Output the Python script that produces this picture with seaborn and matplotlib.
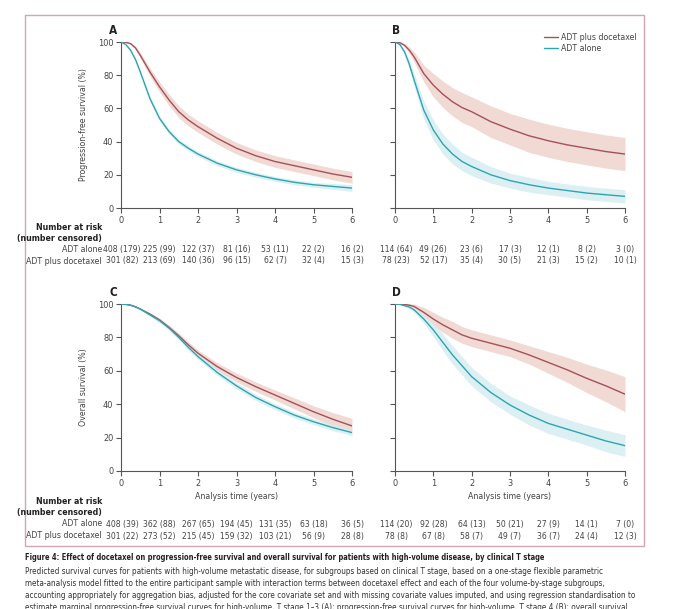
import pandas as pd
import matplotlib
matplotlib.use("Agg")
import matplotlib.pyplot as plt
import matplotlib.transforms as mtransforms
from matplotlib import font_manager
from matplotlib.patches import Rectangle
import seaborn as sns

years = [0, 0.125, 0.25, 0.375, 0.5, 0.75, 1, 1.25, 1.5, 1.75, 2, 2.5, 3, 3.5, 4, 4.5, 5, 5.5, 6]

# A: progression-free survival, high volume, T stage 1-3
a_doc = [100, 99.8, 99, 96.5, 92, 82, 73, 65, 58, 53, 49, 42, 36, 31.5, 28, 25.5, 23, 20.5, 18.5]
a_doc_lo = [100, 99.6, 98.5, 95.5, 90.5, 79.5, 70, 61.5, 54.5, 49.5, 45.5, 38.5, 32.5, 28, 24.5, 22, 19.5, 17, 15]
a_doc_hi = [100, 100, 99.5, 97.5, 93.5, 84.5, 76, 68.5, 61.5, 56.5, 52.5, 45.5, 39.5, 35, 31.5, 29, 26.5, 24, 22]
a_adt = [100, 98.5, 95, 89.5, 82, 66, 54, 46, 40, 36, 32.5, 27, 23, 20, 17.5, 15.5, 14, 13, 12]
a_adt_lo = [100, 98.2, 94.5, 88.7, 81, 64.5, 52.5, 44.5, 38.5, 34.5, 31, 25.5, 21.5, 18.5, 16, 14, 12.5, 11.2, 10]
a_adt_hi = [100, 98.8, 95.5, 90.3, 83, 67.5, 55.5, 47.5, 41.5, 37.5, 34, 28.5, 24.5, 21.5, 19, 17, 15.5, 14.8, 14]

# B: progression-free survival, high volume, T stage 4
b_doc = [100, 99.6, 98, 95, 91, 81, 74, 68.5, 64, 60.5, 58, 52, 47.5, 43.5, 40.5, 38, 36, 34, 32.5]
b_doc_lo = [100, 99.2, 97, 93, 88, 76, 67, 60.5, 55.5, 51.5, 49, 42.5, 38, 33.5, 30.5, 28, 26, 24, 22.5]
b_doc_hi = [100, 100, 99, 97, 94, 86, 81, 76.5, 72.5, 69.5, 67, 61.5, 57, 53.5, 50.5, 48, 46, 44, 42.5]
b_adt = [100, 98.5, 94, 86.5, 77, 59, 47, 38.5, 32.5, 28, 25, 20, 16.5, 14, 12, 10.5, 9, 8, 7]
b_adt_lo = [100, 98, 92.5, 83.7, 73, 53.5, 41, 32.5, 26.5, 22.5, 19.5, 15, 12, 9.5, 8, 6.5, 5, 4, 3]
b_adt_hi = [100, 99, 95.5, 89.3, 81, 64.5, 53, 44.5, 38.5, 33.5, 30.5, 25, 21, 18.5, 16, 14.5, 13, 12, 11]

# C: overall survival, high volume, T stage 1-3
c_doc = [100, 99.8, 99.3, 98.3, 97, 94, 90.5, 86, 81, 75.5, 70.5, 62.5, 56, 50.5, 45.5, 40.5, 35.5, 31, 27]
c_doc_lo = [100, 99.7, 99.1, 98, 96.5, 93.2, 89.5, 84.7, 79.4, 73.7, 68.5, 60.2, 53.4, 47.7, 42.5, 37.2, 31.9, 27, 22.5]
c_doc_hi = [100, 99.9, 99.5, 98.6, 97.5, 94.8, 91.5, 87.3, 82.6, 77.3, 72.5, 64.8, 58.6, 53.3, 48.5, 43.8, 39.1, 35, 31.5]
c_adt = [100, 99.8, 99.3, 98.3, 97, 93.5, 90, 85.5, 80, 74, 68.5, 59, 51, 44, 38.5, 33.5, 29.5, 26, 23]
c_adt_lo = [100, 99.7, 99.1, 98, 96.5, 92.7, 89, 84.3, 78.6, 72.5, 66.9, 57.3, 49.2, 42.2, 36.7, 31.7, 27.7, 24.2, 21.2]
c_adt_hi = [100, 99.9, 99.5, 98.6, 97.5, 94.3, 91, 86.7, 81.4, 75.5, 70.1, 60.7, 52.8, 45.8, 40.3, 35.3, 31.3, 27.8, 24.8]

# D: overall survival, high volume, T stage 4
d_doc = [100, 99.9, 99.7, 99.3, 98.5, 95, 91, 87.5, 84.5, 81.5, 79.5, 76.5, 73.5, 69.5, 65, 60.5, 55.5, 51, 46]
d_doc_lo = [100, 99.8, 99.4, 98.5, 97, 92, 87, 83, 79.5, 76.5, 74.5, 71.5, 68.5, 64, 58.5, 53, 47, 41.5, 35.5]
d_doc_hi = [100, 100, 100, 100, 100, 98, 95, 92, 89.5, 86.5, 84.5, 81.5, 78.5, 75, 71.5, 68, 64, 60.5, 56.5]
d_adt = [100, 99.8, 99, 98.2, 96.5, 91, 84.5, 77, 69.5, 63, 56.5, 47, 39.5, 33.5, 28.5, 25, 21.5, 18, 15.2]
d_adt_lo = [100, 99.6, 98.5, 97.2, 95, 88.5, 80.5, 72, 64, 57.5, 51, 41.5, 34, 27.5, 22.5, 19, 15.5, 11.5, 8.7]
d_adt_hi = [100, 100, 99.5, 99.2, 98, 93.5, 88.5, 82, 75, 68.5, 62, 52.5, 45, 39.5, 34.5, 31, 27.5, 24.5, 21.7]

# number at risk / number censored at years 0..6
risk_years = [0, 1, 2, 3, 4, 5, 6]
a_adt_risk = [408, 225, 122, 81, 53, 22, 16]
a_adt_cens = [179, 99, 37, 16, 11, 2, 2]
a_doc_risk = [301, 213, 140, 96, 62, 32, 15]
a_doc_cens = [82, 69, 36, 15, 7, 4, 3]
b_adt_risk = [114, 49, 23, 17, 12, 8, 3]
b_adt_cens = [64, 26, 6, 3, 1, 2, 0]
b_doc_risk = [78, 52, 35, 30, 21, 15, 10]
b_doc_cens = [23, 17, 4, 5, 3, 2, 1]
c_adt_risk = [408, 362, 267, 194, 131, 63, 36]
c_adt_cens = [39, 88, 65, 45, 35, 18, 5]
c_doc_risk = [301, 273, 215, 159, 103, 56, 28]
c_doc_cens = [22, 52, 45, 32, 21, 9, 8]
d_adt_risk = [114, 92, 64, 50, 27, 14, 7]
d_adt_cens = [20, 28, 13, 21, 9, 1, 0]
d_doc_risk = [78, 67, 58, 49, 36, 24, 12]
d_doc_cens = [8, 8, 7, 7, 7, 4, 3]

groups = ["ADT plus docetaxel", "ADT alone"]
line_colors = {"ADT plus docetaxel": "#a5505a", "ADT alone": "#2ba6b0"}
band_colors = {"ADT plus docetaxel": "#f0dad3", "ADT alone": "#d6edf2"}

caption_title = ("Figure 4: Effect of docetaxel on progression-free survival and overall "
                 "survival for patients with high-volume disease, by clinical T stage")
caption_lines = [
    "Predicted survival curves for patients with high-volume metastatic disease, for subgroups based on clinical T stage, based on a one-stage flexible parametric",
    "meta-analysis model fitted to the entire participant sample with interaction terms between docetaxel effect and each of the four volume-by-stage subgroups,",
    "accounting appropriately for aggregation bias, adjusted for the core covariate set and with missing covariate values imputed, and using regression standardisation to",
    "estimate marginal progression-free survival curves for high-volume, T stage 1\u20133 (A); progression-free survival curves for high-volume, T stage 4 (B); overall survival",
]

sns.set_style("ticks")

# pick the narrowest sans face that is installed
installed = {(f.name, f.stretch) for f in font_manager.fontManager.ttflist}
names = {n for n, _ in installed}
if "Liberation Sans Narrow" in names:
    plt.rcParams["font.family"] = ["Liberation Sans Narrow", "DejaVu Sans"]
    fs, tfs = 7.0, 7.2
elif ("DejaVu Sans", "condensed") in installed:
    plt.rcParams["font.family"] = ["DejaVu Sans"]
    plt.rcParams["font.stretch"] = "condensed"
    fs, tfs = 6.3, 6.6
else:
    plt.rcParams["font.family"] = ["Liberation Sans", "DejaVu Sans"]
    fs, tfs = 6.0, 6.6
plt.rcParams["axes.edgecolor"] = "#555555"
plt.rcParams["xtick.color"] = "#555555"
plt.rcParams["ytick.color"] = "#555555"
plt.rcParams["xtick.labelcolor"] = "#444444"
plt.rcParams["ytick.labelcolor"] = "#444444"

W, H = 680, 609
fig = plt.figure(figsize=(W / 100, H / 100), dpi=100)


def px_axes(left, top, right, bottom):
    return fig.add_axes([left / W, 1 - bottom / H, (right - left) / W, (bottom - top) / H])


panels = [
    dict(box=(121, 42, 352, 208), letter="A", curves=(a_doc, a_doc_lo, a_doc_hi, a_adt, a_adt_lo, a_adt_hi),
         risk=(a_adt_risk, a_adt_cens, a_doc_risk, a_doc_cens), ylabel="Progression-free survival (%)",
         xlabel=False, legend=False, rows_y=(227, 238, 250, 261)),
    dict(box=(395, 42, 625, 208), letter="B", curves=(b_doc, b_doc_lo, b_doc_hi, b_adt, b_adt_lo, b_adt_hi),
         risk=(b_adt_risk, b_adt_cens, b_doc_risk, b_doc_cens), ylabel=None,
         xlabel=False, legend=True, rows_y=(227, 238, 250, 261)),
    dict(box=(121, 304, 352, 471), letter="C", curves=(c_doc, c_doc_lo, c_doc_hi, c_adt, c_adt_lo, c_adt_hi),
         risk=(c_adt_risk, c_adt_cens, c_doc_risk, c_doc_cens), ylabel="Overall survival (%)",
         xlabel=True, legend=False, rows_y=(502, 513, 524, 536)),
    dict(box=(395, 304, 625, 471), letter="D", curves=(d_doc, d_doc_lo, d_doc_hi, d_adt, d_adt_lo, d_adt_hi),
         risk=(d_adt_risk, d_adt_cens, d_doc_risk, d_doc_cens), ylabel=None,
         xlabel=True, legend=False, rows_y=(502, 513, 524, 536)),
]

for p in panels:
    ax = px_axes(*p["box"])
    doc, doc_lo, doc_hi, adt, adt_lo, adt_hi = p["curves"]
    df = pd.DataFrame({
        "Years": years * 2,
        "Survival": doc + adt,
        "Group": ["ADT plus docetaxel"] * len(years) + ["ADT alone"] * len(years),
    })
    ax.fill_between(years, doc_lo, doc_hi, color=band_colors["ADT plus docetaxel"], lw=0, zorder=1)
    ax.fill_between(years, adt_lo, adt_hi, color=band_colors["ADT alone"], lw=0, alpha=0.85, zorder=1)
    sns.lineplot(data=df, x="Years", y="Survival", hue="Group", hue_order=groups,
                 palette=line_colors, linewidth=1.0, ax=ax, legend=p["legend"], zorder=3)

    ax.set_xlim(0, 6)
    ax.set_ylim(0, 100)
    ax.set_xticks(range(7))
    ax.set_yticks(range(0, 101, 20))
    ax.tick_params(axis="both", labelsize=tfs, length=3.5, width=0.8, pad=2)
    if p["ylabel"] is None:
        ax.set_yticklabels([])
        ax.set_ylabel("")
    else:
        ax.set_ylabel(p["ylabel"], fontsize=fs, color="#444444")
        ax.yaxis.set_label_coords((88 - 121) / 231, 0.5)
    if p["xlabel"]:
        ax.set_xlabel("Analysis time (years)", fontsize=fs, color="#444444")
        ax.xaxis.set_label_coords(0.5, (471 - 492) / 167)
    else:
        ax.set_xlabel("")
    sns.despine(ax=ax)
    for s in ["left", "bottom"]:
        ax.spines[s].set_linewidth(0.8)

    if p["legend"]:
        leg = ax.legend(loc="upper right", bbox_to_anchor=((637 - 395) / 230, (208 - 33) / 166),
                        frameon=False, fontsize=fs, handlelength=1.6, handletextpad=0.35,
                        labelspacing=0.2, borderaxespad=0, borderpad=0)
        for t in leg.get_texts():
            t.set_color("#444444")

    # panel letter
    left, top = p["box"][0], p["box"][1]
    lx = left - 12 if p["ylabel"] else left - 3
    fig.text(lx / W, 1 - (top - 12) / H, p["letter"], fontsize=8.5, fontweight="bold",
             ha="left", va="center", color="#222222")

    # number at risk table
    trans = mtransforms.blended_transform_factory(ax.transData, fig.transFigure)
    y_head, y_cens, y_adt, y_doc = p["rows_y"]
    adt_risk, adt_cens, doc_risk, doc_cens = p["risk"]
    nfs = fs - 0.2
    for k, yr in enumerate(risk_years):
        xoff = 0.03 if yr == 0 else 0
        ax.text(yr + xoff, 1 - y_adt / H, f"{adt_risk[k]} ({adt_cens[k]})", transform=trans,
                ha="center", va="center", fontsize=nfs, color="#444444", clip_on=False)
        ax.text(yr + xoff, 1 - y_doc / H, f"{doc_risk[k]} ({doc_cens[k]})", transform=trans,
                ha="center", va="center", fontsize=nfs, color="#444444", clip_on=False)
    if p["ylabel"] is not None:
        rx = 102 / W
        fig.text(rx, 1 - y_head / H, "Number at risk", ha="right", va="center", fontsize=fs,
                 fontweight="bold", color="#222222")
        fig.text(rx, 1 - y_cens / H, "(number censored)", ha="right", va="center", fontsize=fs,
                 fontweight="bold", color="#222222")
        fig.text(rx, 1 - y_adt / H, "ADT alone", ha="right", va="center", fontsize=fs, color="#444444")
        fig.text(rx, 1 - y_doc / H, "ADT plus docetaxel", ha="right", va="center", fontsize=fs,
                 color="#444444")

# pink frame around the figure panels
fig.add_artist(Rectangle((25 / W, 1 - 546 / H), (644 - 25) / W, (546 - 15) / H,
                         transform=fig.transFigure, fill=False, edgecolor="#d4a4b4", lw=1.0))

# caption, sized so the lines end where they do in the print
renderer = fig.canvas.get_renderer()
title_txt = fig.text(25 / W, 1 - 558 / H, caption_title, fontsize=7, fontweight="bold", ha="left",
                     va="center", color="#222222")
title_txt.set_fontsize(7 * 524 / title_txt.get_window_extent(renderer).width)
body = []
for i, line in enumerate(caption_lines):
    body.append(fig.text(25 / W, 1 - (571 + i * 12) / H, line, fontsize=7, ha="left", va="center",
                         color="#333333"))
body_fs = 7 * 608 / body[2].get_window_extent(renderer).width
for t in body:
    t.set_fontsize(body_fs)

fig.savefig("out.png", dpi=100)
